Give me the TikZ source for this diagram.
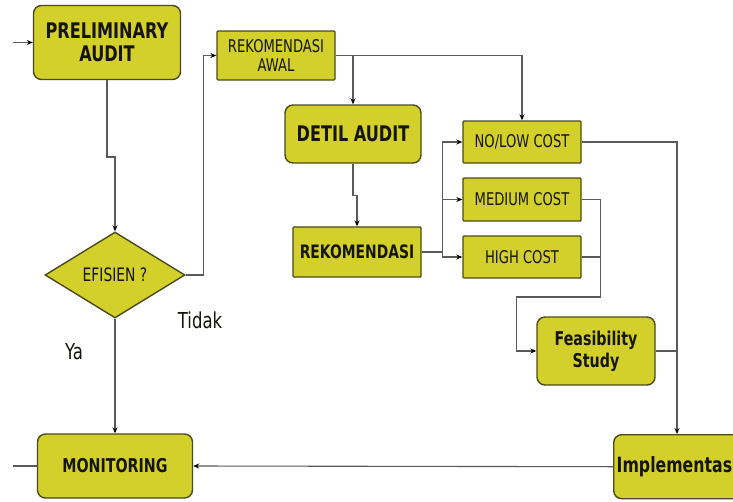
\documentclass[tikz,border=0pt]{standalone}
\usepackage{fontspec}
\setmainfont{DejaVu Sans}[FakeStretch=0.75]
\usetikzlibrary{shapes.geometric,arrows.meta,calc}
\definecolor{boxfill}{HTML}{D3D02B}
\definecolor{boxline}{HTML}{4A4A1C}
\definecolor{conn}{HTML}{5A5A5A}
\definecolor{txt}{HTML}{15150A}
\tikzset{
  base/.style={draw=boxline, fill=boxfill, line width=1.4pt, inner sep=0pt, text=txt, align=center},
  rbox/.style={base, rounded corners=8pt},
  sbox/.style={base, rounded corners=1pt},
  bigb/.style={font=\fontsize{21.5}{23.5}\selectfont\bfseries},
  midb/.style={font=\fontsize{19}{22}\selectfont\bfseries},
  reg/.style={font=\fontsize{17.5}{19}\selectfont},
  conline/.style={draw=conn, line width=1.1pt},
  arr/.style={conline, -{Stealth[length=6pt,width=5pt,color=black,fill=black]}},
  lbl/.style={font=\fontsize{22}{24}\selectfont, text=txt, inner sep=0pt}
}
\begin{document}
\begin{tikzpicture}[x=1pt,y=-1pt]
\useasboundingbox (0,0) rectangle (733,501);
\clip (0,0) rectangle (733,501);
\fill[white] (0,0) rectangle (733,501);
% nodes
\node[rbox,bigb,minimum width=147,minimum height=74] (pa) at (107,42.5) {PRELIMINARY\\AUDIT};
\node[sbox,reg,minimum width=118,minimum height=49,font=\fontsize{17.5}{19}\selectfont] (ra) at (276,55.5) {REKOMENDASI\\AWAL};
\node[rbox,bigb,minimum width=136,minimum height=58] (da) at (353,134) {DETIL AUDIT};
\node[sbox,midb,minimum width=128,minimum height=50,font=\fontsize{18.5}{20}\selectfont\bfseries] (rek) at (357,252) {REKOMENDASI};
\node[sbox,reg,minimum width=118,minimum height=42] (nl) at (522,142) {NO/LOW COST};
\node[sbox,reg,minimum width=118,minimum height=43] (mc) at (522,199.5) {MEDIUM COST};
\node[sbox,reg,minimum width=118,minimum height=42] (hc) at (522,257) {HIGH COST};
\node[base,diamond,aspect=1.63,minimum width=140,minimum height=86,font=\fontsize{18.5}{20}\selectfont] (ef) at (115,275) {EFISIEN ?};
\node[rbox,midb,minimum width=118,minimum height=68] (fs) at (596,351) {Feasibility\\Study};
\node[rbox,midb,minimum width=155,minimum height=64] (mon) at (115,466) {MONITORING};
\node[rbox,anchor=north west,minimum width=150,minimum height=64,text width=144,align=left,inner xsep=3pt,font=\fontsize{21}{23}\selectfont\bfseries] (imp) at (613,434) {Implementasi};
\node[lbl] (tidak) at (200,320) {Tidak};
\node[lbl] (ya) at (74,352) {Ya};
% coordinates
\coordinate (in) at (13,42.5);
\coordinate (out) at (13,466);
\coordinate (imptop) at ($(imp.north west)+(64,0)$);
% connectors
\draw[arr] (in) -- (pa.west);
\draw[arr] (pa.south) |- (115,157) -- (ef.north);
\draw[arr] (ef.east) -- ++(18,0) |- (ra.west);
\draw[arr] (ef.south) -- (mon.north);
\draw[arr] (ra.east) -| (nl.north);
\draw[arr] (ra.east -| da.north) -- (da.north);
\draw[arr] (da.south) -- ++(0,32) -| (rek.north);
\draw[conline] (rek.east) -- ++(21,0) coordinate (sp);
\draw[arr] (sp) |- (nl.west);
\draw[arr] (sp) |- (mc.west);
\draw[arr] (sp) |- (hc.west);
\draw[arr] (nl.east) -| (imptop);
\draw[conline] (fs.east) -- (fs.east -| imptop);
\draw[arr] (mc.east) -- ++(19,0) -- ++(0,97.5) -| ($(fs.west)+(-20,0)$) -- (fs.west);
\draw[conline,line width=2pt] (hc.east) -- ++(19,0);
\draw[arr] (imp.west) -- (mon.east);
\draw[conline] (mon.west) -- (out);
\end{tikzpicture}
\end{document}
